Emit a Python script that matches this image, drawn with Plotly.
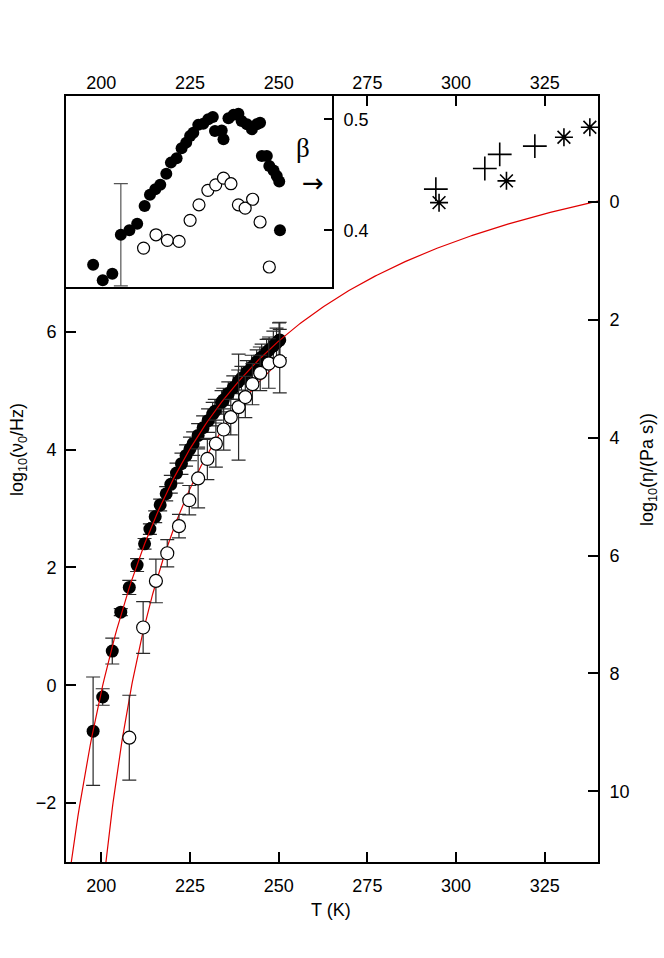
import plotly.graph_objects as go

# ---------------- data ----------------
# filled circles: temperature (K), log10(nu0/Hz), error, beta
T_filled = [197.7, 200.4, 203.1, 205.5, 207.9, 210.1, 212.2, 213.7, 215.2, 216.6,
            218.3, 219.6, 221.2, 222.6, 223.9, 225.0, 225.9, 227.3, 228.7, 230.1,
            231.4, 232.0, 233.9, 234.4, 235.8, 237.2, 238.6, 239.5, 241.0, 242.4,
            243.8, 244.7, 245.2, 246.6, 247.3, 248.5, 249.4, 250.1, 250.3]
nu_filled = [-0.78, -0.20, 0.58, 1.24, 1.66, 2.04, 2.40, 2.65, 2.86, 3.06,
             3.25, 3.41, 3.60, 3.76, 3.90, 4.01, 4.10, 4.24, 4.37, 4.49,
             4.60, 4.65, 4.80, 4.84, 4.95, 5.05, 5.15, 5.21, 5.31, 5.40,
             5.49, 5.54, 5.57, 5.65, 5.69, 5.76, 5.81, 5.85, 5.86]
err_filled = [0.92, 0.14, 0.22, 0.06, 0.12, 0.11, 0.09, 0.09, 0.10, 0.10,
              0.12, 0.15, 0.17, 0.18, 0.18, 0.20, 0.20, 0.20, 0.20, 0.20,
              0.20, 0.20, 0.20, 0.20, 0.20, 0.20, 0.20, 0.20, 0.20, 0.20,
              0.20, 0.20, 0.22, 0.22, 0.22, 0.25, 0.25, 0.30, 0.30]
beta_filled = [0.369, 0.355, 0.361, 0.396, 0.400, 0.406, 0.422, 0.432, 0.437, 0.441,
               0.451, 0.461, 0.465, 0.474, 0.479, 0.485, 0.488, 0.495, 0.496, 0.500,
               0.502, 0.4895, 0.490, 0.482, 0.501, 0.504, 0.505, 0.4985, 0.4955, 0.491,
               0.4955, 0.497, 0.467, 0.467, 0.458, 0.454, 0.449, 0.444, 0.400]

# open circles
T_open = [207.9, 211.8, 215.4, 218.6, 221.9, 224.8, 227.3, 229.9, 232.3, 234.5,
          236.5, 238.7, 240.6, 242.6, 244.8, 247.2, 250.3]
nu_open = [-0.89, 0.98, 1.77, 2.24, 2.70, 3.14, 3.51, 3.84, 4.10, 4.34,
           4.55, 4.72, 4.89, 5.11, 5.30, 5.46, 5.50]
err_open = [0.72, 0.44, 0.37, 0.23, 0.20, 0.25, 0.50, 0.35, 0.40, 0.35,
            0.30, 0.90, 0.35, 0.35, 0.30, 0.42, 0.54]
T_open_beta = [211.9, 215.4, 218.6, 221.9, 225.0, 227.5, 230.0, 232.2, 234.4, 236.5,
               238.6, 240.5, 242.6, 244.7, 247.3]
beta_open = [0.384, 0.396, 0.391, 0.390, 0.409, 0.423, 0.436, 0.441, 0.447, 0.442,
             0.423, 0.420, 0.428, 0.4075, 0.367]

# typical error bar of beta
T_beta_err = [205.5]
beta_err_val = [0.396]
beta_err = [0.046]

# viscosity data (right axis)
T_plus = [294.3, 308.1, 312.3, 322.2]
eta_plus = [-0.22, -0.57, -0.81, -0.95]
T_star = [295.2, 314.2, 330.4, 337.7]
eta_star = [0.01, -0.36, -1.10, -1.27]

# VFT fit parameters: log10(nu) = A - B/(T - T0)
fit1 = dict(A=10.59, B=427.0, T0=160.1, Tmin=190.9, Tmax=340.0)
fit2 = dict(A=9.505, B=288.8, T0=178.2, Tmin=201.0, Tmax=250.5)

x_ticks = [200, 225, 250, 275, 300, 325]
y_ticks = [-2, 0, 2, 4, 6]
eta_ticks = [0, 2, 4, 6, 8, 10]
beta_ticks = [0.4, 0.5]

def vft_curve(p, n=300):
    ts = [p["Tmin"] + (p["Tmax"] - p["Tmin"]) * i / (n - 1) for i in range(n)]
    return ts, [p["A"] - p["B"] / (t - p["T0"]) for t in ts]

FONT = "Liberation Sans, Arial, Helvetica, sans-serif"
ERRC = "#2a2a2a"
RED = "rgb(225,0,0)"

fig = go.Figure()

# filled series (main)
fig.add_trace(go.Scatter(
    x=T_filled, y=nu_filled, mode="markers",
    marker=dict(size=13, color="black", line=dict(width=0)),
    error_y=dict(type="data", array=err_filled, color=ERRC, thickness=1.2, width=7),
    xaxis="x", yaxis="y", showlegend=False))

# fit curves
t1, v1 = vft_curve(fit1)
t2, v2 = vft_curve(fit2)
fig.add_trace(go.Scatter(x=t1, y=v1, mode="lines", line=dict(color=RED, width=1.2),
                         xaxis="x", yaxis="y", showlegend=False))
fig.add_trace(go.Scatter(x=t2, y=v2, mode="lines", line=dict(color=RED, width=1.2),
                         xaxis="x", yaxis="y", showlegend=False))

# open series (main)
fig.add_trace(go.Scatter(
    x=T_open, y=nu_open, mode="markers",
    marker=dict(size=13, color="white", line=dict(width=1.2, color="black")),
    error_y=dict(type="data", array=err_open, color=ERRC, thickness=1.2, width=7),
    xaxis="x", yaxis="y", showlegend=False))

# viscosity points on right axis
fig.add_trace(go.Scatter(
    x=T_plus, y=eta_plus, mode="markers",
    marker=dict(symbol="cross-thin-open", size=17, color="black", line=dict(width=1.6, color="black")),
    xaxis="x", yaxis="y2", showlegend=False))
fig.add_trace(go.Scatter(
    x=T_star, y=eta_star, mode="markers",
    marker=dict(symbol="asterisk-open", size=15, color="black", line=dict(width=1.6, color="black")),
    xaxis="x", yaxis="y2", showlegend=False))

# dummy trace for top axis
fig.add_trace(go.Scatter(x=[250], y=[0], mode="markers", marker=dict(opacity=0),
                         xaxis="x2", yaxis="y", showlegend=False, hoverinfo="skip"))

# inset
fig.add_trace(go.Scatter(
    x=T_beta_err, y=beta_err_val, mode="markers",
    marker=dict(size=1, color="rgba(0,0,0,0)"),
    error_y=dict(type="data", array=beta_err, color="#555555", thickness=1.2, width=7),
    xaxis="x3", yaxis="y3", showlegend=False))
fig.add_trace(go.Scatter(
    x=T_filled, y=beta_filled, mode="markers",
    marker=dict(size=12, color="black", line=dict(width=0)),
    xaxis="x3", yaxis="y3", showlegend=False))
fig.add_trace(go.Scatter(
    x=T_open_beta, y=beta_open, mode="markers",
    marker=dict(size=12, color="white", line=dict(width=1.2, color="black")),
    xaxis="x3", yaxis="y3", showlegend=False))

axis_common = dict(showgrid=False, zeroline=False, showline=True, linecolor="black",
                   linewidth=2, ticks="inside", ticklen=10, tickwidth=1.5,
                   tickcolor="black", automargin=False,
                   tickfont=dict(family=FONT, size=18, color="black"))

W, H, L, R, T, B = 664, 958, 66, 66, 96, 96
def px(xp, yp):
    return (xp - L) / (W - L - R), (H - B - yp) / (H - T - B)

xl, yl = px(18, 450)
xr, yr = px(648, 470)
xt, yt = px(331, 910)
xb, yb = px(303, 148)
xa, ya = px(313, 183)

def ann(text, x, y, size=18, family=FONT, angle=0):
    return dict(text=text, x=x, y=y, xref="paper", yref="paper", showarrow=False,
                xanchor="center", yanchor="middle", textangle=angle,
                font=dict(family=family, size=size, color="black"))

fig.update_layout(
    width=W, height=H,
    margin=dict(l=L, r=R, t=T, b=B, autoexpand=False),
    paper_bgcolor="white", plot_bgcolor="white",
    font=dict(family=FONT, size=18, color="black"),
    xaxis=dict(axis_common, domain=[0, 1], range=[190.06, 340.0],
               tickvals=x_ticks, anchor="y", side="bottom", ticklabelstandoff=6),
    xaxis2=dict(axis_common, range=[190.06, 340.0], tickvals=x_ticks,
                overlaying="x", anchor="y", side="top", matches="x",
                ticklabelstandoff=-2),
    yaxis=dict(axis_common, domain=[0, 1], range=[-3, 10], tickvals=y_ticks,
               anchor="x", side="left", ticklabelstandoff=4),
    yaxis2=dict(axis_common, range=[11.2, -1.8], tickvals=eta_ticks,
                overlaying="y", anchor="x", side="right", ticklabelstandoff=6),
    xaxis3=dict(showgrid=False, zeroline=False, showline=True, linecolor="black",
                linewidth=2, mirror=True, domain=[0, 0.5], range=[190.06, 264.95],
                ticks="", showticklabels=False, anchor="y3", automargin=False),
    yaxis3=dict(axis_common, domain=[0.7507, 1], range=[0.349, 0.521],
                tickvals=beta_ticks, anchor="x3", side="right", mirror=True,
                ticklen=8, ticklabelstandoff=6),
    annotations=[
        ann("T (K)", xt, yt),
        ann("log<sub>10</sub>(ν<sub>0</sub>/Hz)", xl, yl, angle=-90),
        ann("log<sub>10</sub>(η/(Pa s))", xr, yr, angle=-90),
        ann("β", xb, yb, size=27, family="Liberation Serif, serif"),
        ann("→", xa, ya, size=26, family="DejaVu Sans, sans-serif"),
    ],
)

fig.write_html("out.html", config={"displayModeBar": False},
               post_script="document.body.style.margin='0';document.body.style.padding='0';")
